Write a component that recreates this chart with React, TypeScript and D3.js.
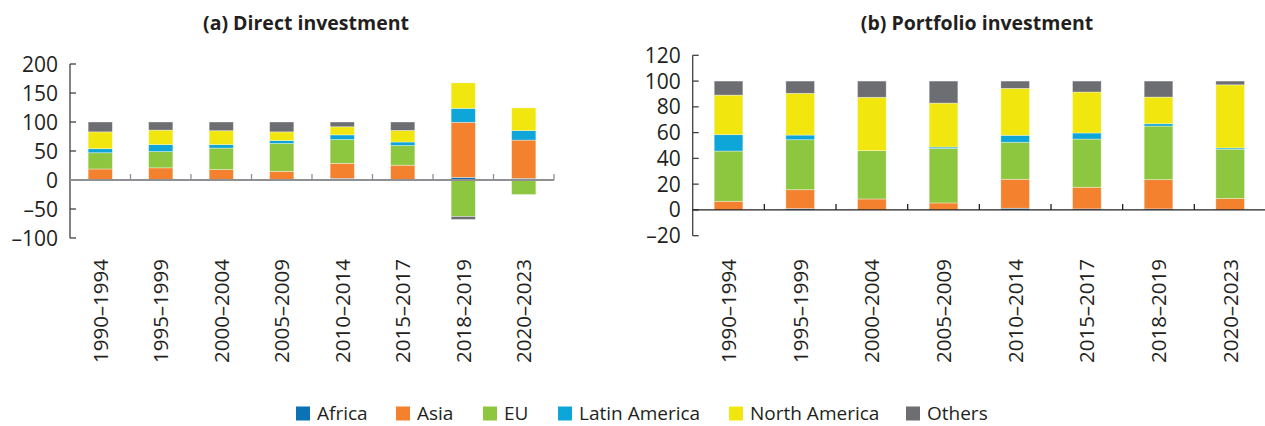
import React from "react";
import * as d3 from "d3";

// Categories and series
const periods = [
  "1990–1994",
  "1995–1999",
  "2000–2004",
  "2005–2009",
  "2010–2014",
  "2015–2017",
  "2018–2019",
  "2020–2023",
];

const regions = ["Africa", "Asia", "EU", "Latin America", "North America", "Others"];
const regionColors = ["#0a72b5", "#f3812d", "#8dc63f", "#0ea5d8", "#f1e70e", "#6d6e71"];

// (a) Direct investment, % share by region
const directAfrica = [0, 0, 0, 0, 2.8, 0.5, 4.5, 2.8];
const directAsia = [19, 21, 18, 15, 26, 25, 95, 66];
const directEU = [28, 28, 37, 48, 41, 34, -63, -25];
const directLatAm = [7, 12, 6, 5, 8, 6, 24, 16.5];
const directNorthAmerica = [29, 25, 24, 15, 14, 20, 44, 39];
const directOthers = [17, 14, 15, 17, 8.2, 14.5, -5, 0];

// (b) Portfolio investment, % share by region
const portfolioAfrica = [0, 1, 0, 0, 1.3, 0.8, 0.8, 0];
const portfolioAsia = [6.7, 14.7, 8.5, 5.4, 22.5, 16.8, 22.7, 8.8];
const portfolioEU = [39, 38.8, 37.5, 42.4, 28.7, 37.4, 41.6, 38.3];
const portfolioLatAm = [12.7, 3.6, 0, 1, 5.4, 4.7, 1.8, 1];
const portfolioNorthAmerica = [30.7, 32.4, 41.4, 34.1, 36.4, 31.8, 20.7, 49];
const portfolioOthers = [10.9, 9.5, 12.6, 17.1, 5.7, 8.5, 12.4, 2.9];

const directTicks = [-100, -50, 0, 50, 100, 150, 200];
const portfolioTicks = [-20, 0, 20, 40, 60, 80, 100, 120];

const FONT = "'Open Sans', 'Noto Sans', sans-serif";
const TEXT = "#231f20";

type Row = { period: string } & Record<string, number | string>;

function buildRows(series: number[][]): Row[] {
  return periods.map((p, i) => {
    const row: Row = { period: p } as Row;
    regions.forEach((r, k) => {
      row[r] = series[k][i];
    });
    return row;
  });
}

type PanelProps = {
  title: string;
  titleX: number;
  rows: Row[];
  domain: [number, number];
  ticks: number[];
  x0: number;
  x1: number;
  yTop: number;
  yBottom: number;
  zeroColor: string;
  zeroWidth: number;
};

function fmt(v: number) {
  return v < 0 ? "–" + Math.abs(v) : String(v);
}

function Panel(props: PanelProps) {
  const { title, titleX, rows, domain, ticks, x0, x1, yTop, yBottom, zeroColor, zeroWidth } = props;

  const x = d3.scaleBand<string>().domain(periods).range([x0, x1]).paddingInner(0.6).paddingOuter(0.3);
  const y = d3.scaleLinear().domain(domain).range([yBottom, yTop]);

  const stack = d3
    .stack<Row>()
    .keys(regions)
    .value((d, key) => d[key] as number)
    .offset(d3.stackOffsetDiverging);
  const layers = stack(rows);

  const step = x.step();
  const labelTop = 259;

  return (
    <g>
      <text
        x={titleX}
        y={30}
        textAnchor="middle"
        fontFamily={FONT}
        fontWeight={700}
        fontSize={19.5}
        fill={TEXT}
      >
        {title}
      </text>

      {/* stacked bars */}
      {layers.map((layer, k) => (
        <g key={regions[k]} fill={regionColors[k]}>
          {layer.map((seg, i) => {
            const a = y(seg[0]);
            const b = y(seg[1]);
            const h = Math.abs(a - b);
            if (h < 0.01) return null;
            return (
              <rect
                key={i}
                x={x(periods[i])}
                y={Math.min(a, b)}
                width={x.bandwidth()}
                height={h}
                stroke="#ffffff"
                strokeOpacity={0.45}
                strokeWidth={0.8}
              />
            );
          })}
        </g>
      ))}

      {/* y axis */}
      <line x1={x0} x2={x0} y1={y(domain[0])} y2={y(domain[1])} stroke="#414042" strokeWidth={1.3} />
      {ticks.map((t) => (
        <g key={t}>
          <line x1={x0} x2={x0 + 6} y1={y(t)} y2={y(t)} stroke="#414042" strokeWidth={1.3} />
          <text
            x={x0 - 12}
            y={y(t)}
            dy="0.36em"
            textAnchor="end"
            fontFamily={FONT}
            fontSize={21}
            fill={TEXT}
          >
            {fmt(t)}
          </text>
        </g>
      ))}

      {/* zero line with category separators */}
      <line x1={x0} x2={x1} y1={y(0)} y2={y(0)} stroke={zeroColor} strokeWidth={zeroWidth} />
      {periods.map((p, i) => (
        <line
          key={p}
          x1={x0 + step * (i + 1)}
          x2={x0 + step * (i + 1)}
          y1={y(0)}
          y2={y(0) - 6}
          stroke={zeroColor}
          strokeWidth={1.3}
        />
      ))}

      {/* category labels */}
      {periods.map((p) => {
        const cx = (x(p) as number) + x.bandwidth() / 2;
        return (
          <text
            key={p}
            transform={`translate(${cx},${labelTop}) rotate(-90)`}
            dy="0.36em"
            textAnchor="end"
            fontFamily={FONT}
            fontSize={20.5}
            fill={TEXT}
          >
            {p}
          </text>
        );
      })}
    </g>
  );
}

const legendX = [296, 396, 483, 558, 729, 906];

export default function App() {
  const directRows = buildRows([
    directAfrica,
    directAsia,
    directEU,
    directLatAm,
    directNorthAmerica,
    directOthers,
  ]);
  const portfolioRows = buildRows([
    portfolioAfrica,
    portfolioAsia,
    portfolioEU,
    portfolioLatAm,
    portfolioNorthAmerica,
    portfolioOthers,
  ]);

  return (
    <svg
      width={1265}
      height={426}
      viewBox="0 0 1265 426"
      style={{ position: "absolute", left: 0, top: 0, background: "#ffffff" }}
    >
      <rect x={0} y={0} width={1265} height={426} fill="#ffffff" />
      <Panel
        title="(a) Direct investment"
        titleX={306}
        rows={directRows}
        domain={[-100, 200]}
        ticks={directTicks}
        x0={70}
        x1={554}
        yTop={64}
        yBottom={238}
        zeroColor="#8f9093"
        zeroWidth={1.8}
      />
      <Panel
        title="(b) Portfolio investment"
        titleX={977}
        rows={portfolioRows}
        domain={[-20, 120]}
        ticks={portfolioTicks}
        x0={692.7}
        x1={1266}
        yTop={55.3}
        yBottom={235.7}
        zeroColor="#231f20"
        zeroWidth={1.3}
      />

      {/* legend */}
      {regions.map((r, k) => (
        <g key={r}>
          <rect x={legendX[k]} y={406.5} width={14} height={14} fill={regionColors[k]} />
          <text x={legendX[k] + 21} y={413.5} dy="0.36em" fontFamily={FONT} fontSize={19} fill={TEXT}>
            {r}
          </text>
        </g>
      ))}
    </svg>
  );
}
